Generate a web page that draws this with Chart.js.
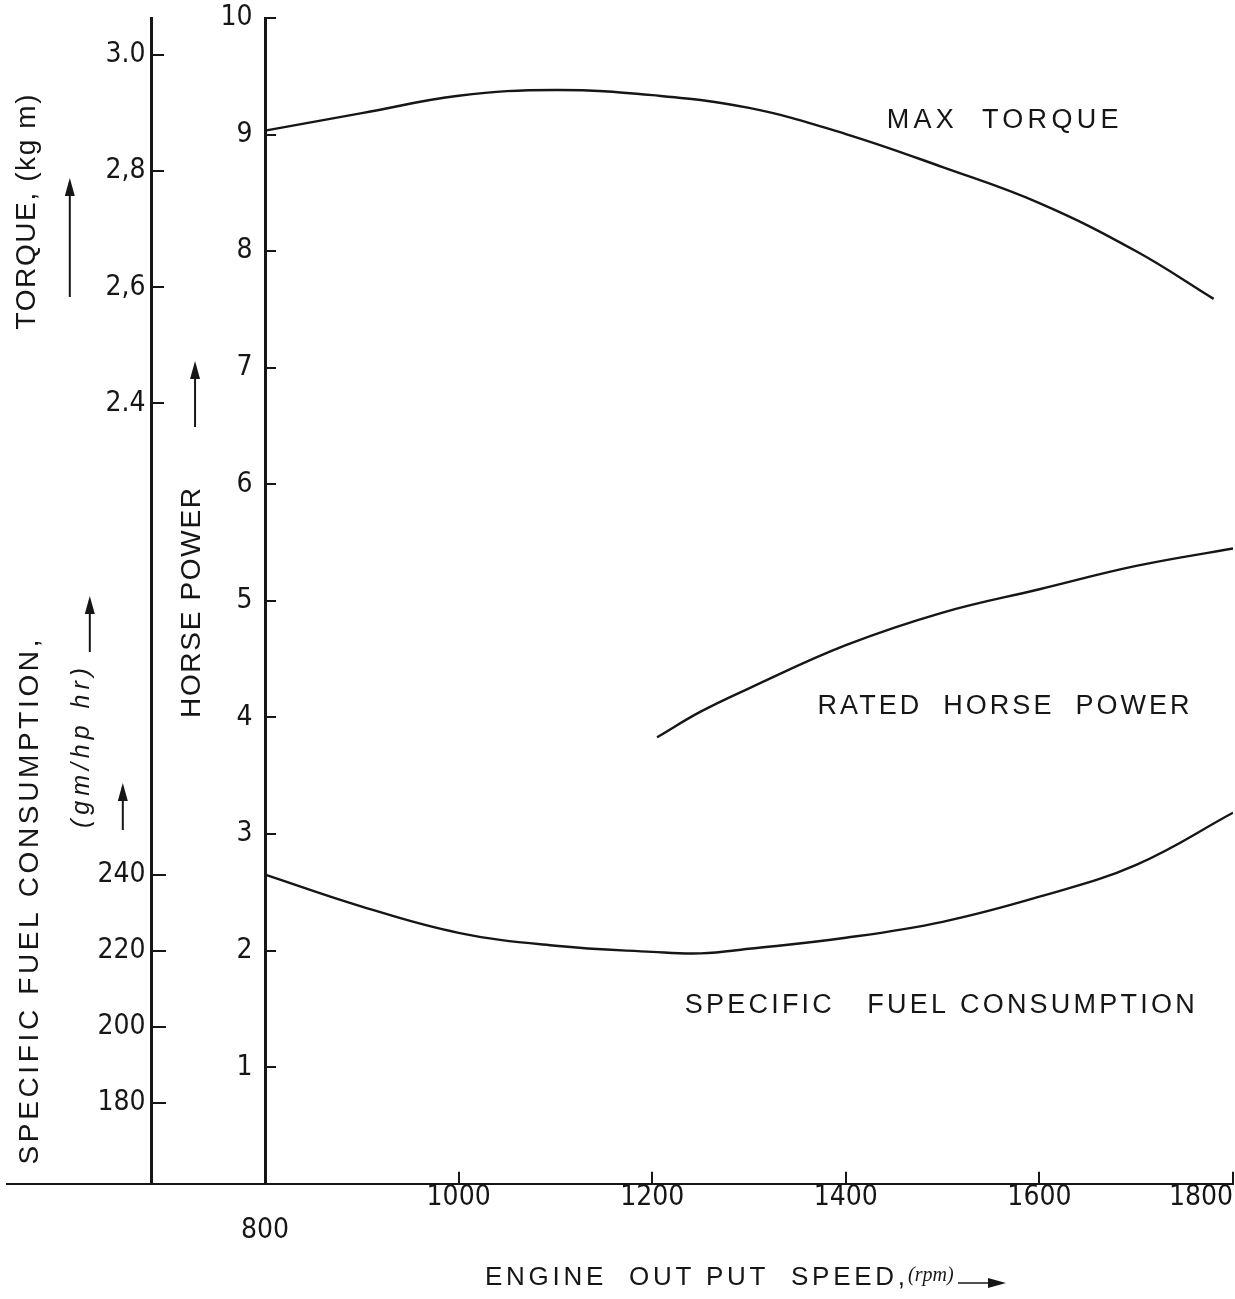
<!DOCTYPE html>
<html>
<head>
<meta charset="utf-8">
<script src="https://cdn.jsdelivr.net/npm/chart.js@4.4.1/dist/chart.umd.min.js"></script>
<style>
  html, body { margin: 0; padding: 0; background: #fff; overflow: hidden; }
  #wrap { width: 1235px; height: 1299px; }
</style>
</head>
<body>
<div id="wrap"><canvas id="engineChart"></canvas></div>
<script>
// axis ticks
const speedTicks = [800, 1000, 1200, 1400, 1600, 1800];
const hpTicks = [1, 2, 3, 4, 5, 6, 7, 8, 9, 10];
const torqueTicks = [2.4, 2.6, 2.8, 3.0];
const torqueTickLabels = ['2.4', '2,6', '2,8', '3.0'];
const sfcTicks = [180, 200, 220, 240];

// axis ranges (outer axis is broken, so these do not start at zero)
const speedAxisStart = 533.4;
const outerAxisAt = 683;
const torqueRange = [1.055, 3.064];
const sfcRange = [158.7, 465.3];

// max torque, kg m
const torqueSpeed = [800, 900, 1000, 1100, 1200, 1300, 1400, 1500, 1600, 1700, 1780];
const torqueValues = [2.87, 2.90, 2.93, 2.94, 2.931, 2.909, 2.864, 2.807, 2.745, 2.662, 2.58];

// rated horse power
const hpSpeed = [1205, 1250, 1300, 1400, 1500, 1600, 1700, 1800];
const hpValues = [3.83, 4.05, 4.25, 4.62, 4.9, 5.1, 5.3, 5.45];

// specific fuel consumption, gm/hp hr
const sfcSpeed = [800, 900, 1000, 1100, 1200, 1250, 1300, 1400, 1500, 1600, 1700, 1800];
const sfcValues = [240, 231.6, 224.7, 221.3, 219.7, 219.3, 220.5, 223.4, 227.6, 234.2, 242.6, 256.3];

const ink = '#161616';
const tickFont = { family: "'DejaVu Sans Condensed', 'DejaVu Sans', sans-serif", size: 28 };

function toPoints(xs, ys) {
    return xs.map((x, i) => ({ x: x, y: ys[i] }));
}

function spaced(ctx, text, cx, cy, span, angle) {
    ctx.save();
    ctx.translate(cx, cy);
    ctx.rotate(angle);
    ctx.letterSpacing = '0px';
    const w = ctx.measureText(text).width;
    const gap = Math.max(0, (span - w) / (text.length - 1));
    ctx.letterSpacing = gap + 'px';
    ctx.textAlign = 'left';
    ctx.textBaseline = 'middle';
    ctx.fillText(text, -span / 2, 0);
    ctx.restore();
}

function arrow(ctx, x1, y1, x2, y2) {
    const a = Math.atan2(y2 - y1, x2 - x1);
    ctx.beginPath();
    ctx.moveTo(x1, y1);
    ctx.lineTo(x2, y2);
    ctx.stroke();
    ctx.beginPath();
    ctx.moveTo(x2 + Math.cos(a) * 4, y2 + Math.sin(a) * 4);
    ctx.lineTo(x2 - Math.cos(a) * 14 - Math.sin(a) * 5, y2 - Math.sin(a) * 14 + Math.cos(a) * 5);
    ctx.lineTo(x2 - Math.cos(a) * 14 + Math.sin(a) * 5, y2 - Math.sin(a) * 14 - Math.cos(a) * 5);
    ctx.closePath();
    ctx.fill();
}

const annotate = {
    id: 'annotate',
    afterDraw(chart) {
        const { ctx, scales: { x, yHP } } = chart;
        const hpAxisX = x.getPixelForValue(800);
        const outerX = x.getPixelForValue(outerAxisAt);
        ctx.save();
        ctx.fillStyle = ink;
        ctx.strokeStyle = ink;
        ctx.lineWidth = 2;

        // curve labels
        ctx.font = "27px 'Liberation Sans', sans-serif";
        spaced(ctx, 'MAX  TORQUE', x.getPixelForValue(1562), yHP.getPixelForValue(9.12), 232, 0);
        spaced(ctx, 'RATED  HORSE  POWER', x.getPixelForValue(1563), yHP.getPixelForValue(4.09), 372, 0);
        spaced(ctx, 'SPECIFIC   FUEL CONSUMPTION', x.getPixelForValue(1497), yHP.getPixelForValue(1.53), 510, 0);

        // x title
        ctx.font = "26px 'Liberation Sans', sans-serif";
        spaced(ctx, 'ENGINE  OUT PUT  SPEED,', 695, 1278, 420, 0);
        ctx.font = "italic 20px 'Liberation Serif', serif";
        ctx.textAlign = 'left';
        ctx.textBaseline = 'middle';
        ctx.fillText('(rpm)', 908, 1276);
        ctx.lineWidth = 1.5;
        arrow(ctx, 958, 1283, 1002, 1283);

        // y titles, read bottom to top
        const up = -Math.PI / 2;
        ctx.font = "28px 'Liberation Sans', sans-serif";
        spaced(ctx, 'TORQUE, (kg m)', outerX - 125, 212, 235, up);
        spaced(ctx, 'SPECIFIC FUEL CONSUMPTION,', outerX - 122, 902, 525, up);
        spaced(ctx, 'HORSE POWER', hpAxisX - 73, 603, 230, up);
        ctx.font = "italic 25px 'Liberation Sans', sans-serif";
        spaced(ctx, '(gm/hp hr)', outerX - 70, 748, 160, up);

        ctx.lineWidth = 2;
        arrow(ctx, outerX - 82, 297, outerX - 82, 182);
        arrow(ctx, hpAxisX - 70, 427, hpAxisX - 70, 365);
        arrow(ctx, outerX - 62, 652, outerX - 62, 600);
        arrow(ctx, outerX - 29, 830, outerX - 29, 787);
        ctx.restore();
    }
};

const lineStyle = {
    borderColor: ink,
    borderWidth: 2.4,
    pointRadius: 0,
    fill: false,
    tension: 0.4
};

// trailing spaces keep the right-aligned labels off the axis line
function outerAxis(range, ticks, labels, showBorder) {
    return {
        type: 'linear',
        axis: 'y',
        position: { x: outerAxisAt },
        min: range[0],
        max: range[1],
        afterBuildTicks: s => { s.ticks = ticks.map(v => ({ value: v })); },
        afterFit: s => { s.paddingTop = 0; s.paddingBottom = 0; },
        border: { display: showBorder, color: ink, width: 3 },
        grid: { drawOnChartArea: false, tickLength: -14, lineWidth: 2, color: ink },
        ticks: {
            autoSkip: false,
            color: ink,
            font: tickFont,
            callback: v => (labels ? labels[ticks.indexOf(v)] : String(v)) + '\u2005'
        }
    };
}

new Chart(document.getElementById('engineChart'), {
    type: 'line',
    data: {
        datasets: [
            Object.assign({ label: 'Max torque', data: toPoints(torqueSpeed, torqueValues), xAxisID: 'x', yAxisID: 'yT' }, lineStyle),
            Object.assign({ label: 'Rated horse power', data: toPoints(hpSpeed, hpValues), xAxisID: 'x', yAxisID: 'yHP' }, lineStyle),
            Object.assign({ label: 'Specific fuel consumption', data: toPoints(sfcSpeed, sfcValues), xAxisID: 'x', yAxisID: 'yS' }, lineStyle)
        ]
    },
    options: {
        responsive: true,
        maintainAspectRatio: false,
        animation: false,
        layout: { padding: { top: 18, left: 7, right: 2, bottom: 42 } },
        plugins: { legend: { display: false }, tooltip: { enabled: false } },
        scales: {
            x: {
                type: 'linear',
                min: speedAxisStart,
                max: 1800,
                afterBuildTicks: s => { s.ticks = [speedAxisStart].concat(speedTicks).map(v => ({ value: v })); },
                afterFit: s => { s.paddingLeft = 0; s.paddingRight = 0; },
                border: { display: true, color: ink, width: 2 },
                grid: {
                    drawOnChartArea: false,
                    tickLength: -12,
                    lineWidth: 2,
                    color: c => (c.tick && c.tick.value > 800) ? ink : 'rgba(0,0,0,0)'
                },
                ticks: {
                    align: 'inner',
                    autoSkip: false,
                    maxRotation: 0,
                    padding: 9,
                    color: ink,
                    font: tickFont,
                    callback: v => v < 800 ? '' : (v === 800 ? ['', '800'] : String(v))
                }
            },
            yHP: {
                type: 'linear',
                axis: 'y',
                position: { x: 800 },
                min: 0,
                max: 10,
                afterBuildTicks: s => { s.ticks = hpTicks.map(v => ({ value: v })); },
                afterFit: s => { s.paddingTop = 0; s.paddingBottom = 0; },
                border: { display: true, color: ink, width: 3 },
                grid: { drawOnChartArea: false, tickLength: -12, lineWidth: 2, color: ink },
                ticks: { autoSkip: false, color: ink, font: tickFont, callback: v => v + '\u2002' }
            },
            yT: outerAxis(torqueRange, torqueTicks, torqueTickLabels, true),
            yS: outerAxis(sfcRange, sfcTicks, null, false)
        }
    },
    plugins: [annotate]
});
</script>
</body>
</html>
